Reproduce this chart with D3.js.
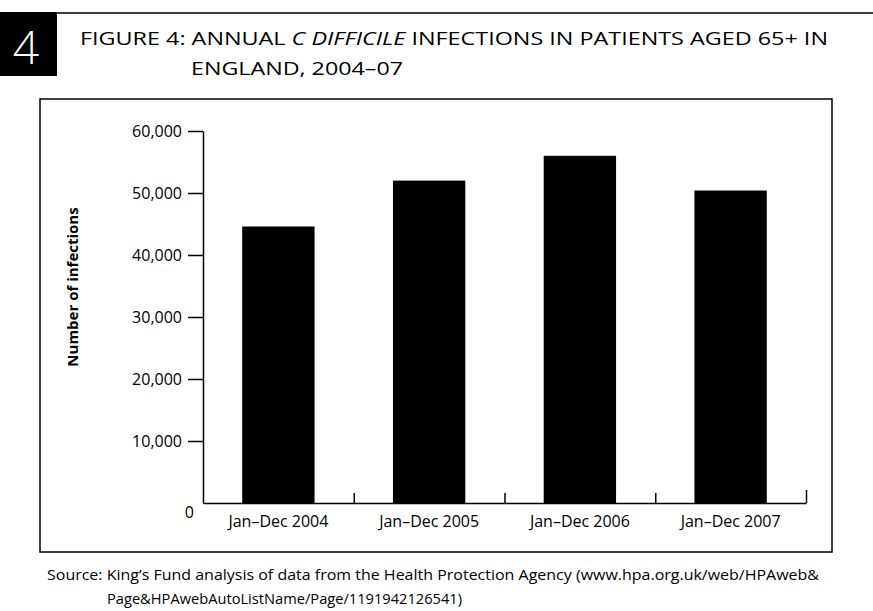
<!DOCTYPE html>
<html>
<head>
<meta charset="utf-8">
<script src="https://cdn.jsdelivr.net/npm/d3@7"></script>
<style>
  html, body { margin: 0; padding: 0; background: #fff; }
  svg { display: block; font-family: "Open Sans", sans-serif; }
  svg .tick text { font-family: "Open Sans", sans-serif; }
</style>
</head>
<body>
<svg id="chart" width="873" height="611"></svg>
<script>
// chart data
const periods = ['Jan–Dec 2004', 'Jan–Dec 2005', 'Jan–Dec 2006', 'Jan–Dec 2007'];
const infections = [44600, 52000, 56000, 50400];
const yTicks = [0, 10000, 20000, 30000, 40000, 50000, 60000];

const svg = d3.select('#chart');
const ink = '#000';

// header rule + figure number block
svg.append('line').attr('x1', 0).attr('x2', 873).attr('y1', 13).attr('y2', 13)
  .attr('stroke', ink).attr('stroke-width', 1.5);
svg.append('rect').attr('x', 0).attr('y', 12).attr('width', 57).attr('height', 64).attr('fill', ink);
svg.append('text').attr('x', 26).attr('y', 64).attr('text-anchor', 'middle')
  .attr('fill', '#fff').attr('font-size', 46).attr('font-weight', 300).text('4');

const title = svg.append('text').attr('font-size', 18).attr('fill', ink);
const t1 = title.append('tspan').attr('x', 80).attr('y', 45)
  .attr('textLength', 748).attr('lengthAdjust', 'spacingAndGlyphs');
t1.append('tspan').text('FIGURE 4: ANNUAL ');
t1.append('tspan').attr('font-style', 'italic').text('C DIFFICILE');
t1.append('tspan').text(' INFECTIONS IN PATIENTS AGED 65+ IN');
title.append('tspan').attr('x', 191).attr('y', 75)
  .attr('textLength', 212).attr('lengthAdjust', 'spacingAndGlyphs')
  .text('ENGLAND, 2004–07');

// frame
svg.append('rect').attr('x', 40).attr('y', 99).attr('width', 792).attr('height', 453)
  .attr('fill', 'none').attr('stroke', ink).attr('stroke-width', 1.5);

// scales
const x0 = 203, x1 = 806, yBase = 503, yTop = 131;
const x = d3.scaleBand().domain(periods).range([x0, x1]).paddingInner(0.52).paddingOuter(0.26);
const y = d3.scaleLinear().domain([0, 60000]).range([yBase, yTop]);
const edges = d3.scaleLinear().domain([0, periods.length]).range([x0, x1]);

// bars
svg.append('g').selectAll('rect').data(infections).join('rect')
  .attr('x', (d, i) => x(periods[i]))
  .attr('width', x.bandwidth())
  .attr('y', d => y(d))
  .attr('height', d => y(0) - y(d))
  .attr('fill', ink);

// y axis
const yAxis = svg.append('g').attr('transform', `translate(${x0},0)`)
  .call(d3.axisLeft(y).tickValues(yTicks).tickFormat(d3.format(',')).tickSize(15).tickSizeOuter(0).tickPadding(6));
yAxis.select('.domain').attr('stroke-width', 1.5);
yAxis.selectAll('.tick line').attr('stroke-width', 1.5);
yAxis.selectAll('.tick text').attr('font-size', 16).attr('fill', ink);
yAxis.selectAll('.tick').filter(d => d === 0).select('line').remove();
yAxis.selectAll('.tick').filter(d => d === 0).select('text').attr('x', -9).attr('dy', '0.9em');

// x axis: boundary ticks pointing up
const xAxis = svg.append('g').attr('transform', `translate(0,${yBase})`)
  .call(d3.axisTop(edges).tickValues([1, 2, 3, 4]).tickFormat('').tickSize(10).tickSizeOuter(0));
xAxis.select('.domain').attr('stroke-width', 1.5);
xAxis.selectAll('.tick line').attr('stroke-width', 1.5);
xAxis.selectAll('.tick').filter(d => d === 4).select('line').attr('y2', -13);

// x labels
const xLab = svg.append('g').attr('transform', `translate(0,${yBase})`)
  .call(d3.axisBottom(x).tickSize(0).tickPadding(13));
xLab.select('.domain').remove();
xLab.selectAll('.tick text').attr('font-size', 16).attr('fill', ink).attr('dy', '0.71em');

// y title
svg.append('text')
  .attr('transform', `translate(78,287) rotate(-90)`)
  .attr('text-anchor', 'middle').attr('font-size', 15).attr('font-weight', 'bold')
  .attr('fill', ink).text('Number of infections');

// source note
const src = svg.append('text').attr('font-size', 14).attr('fill', ink);
src.append('tspan').attr('x', 47).attr('y', 580)
  .attr('textLength', 772).attr('lengthAdjust', 'spacingAndGlyphs')
  .text('Source: King’s Fund analysis of data from the Health Protection Agency (www.hpa.org.uk/web/HPAweb&');
src.append('tspan').attr('x', 107).attr('y', 604)
  .attr('textLength', 355).attr('lengthAdjust', 'spacingAndGlyphs')
  .text('Page&HPAwebAutoListName/Page/1191942126541)');
</script>
</body>
</html>
